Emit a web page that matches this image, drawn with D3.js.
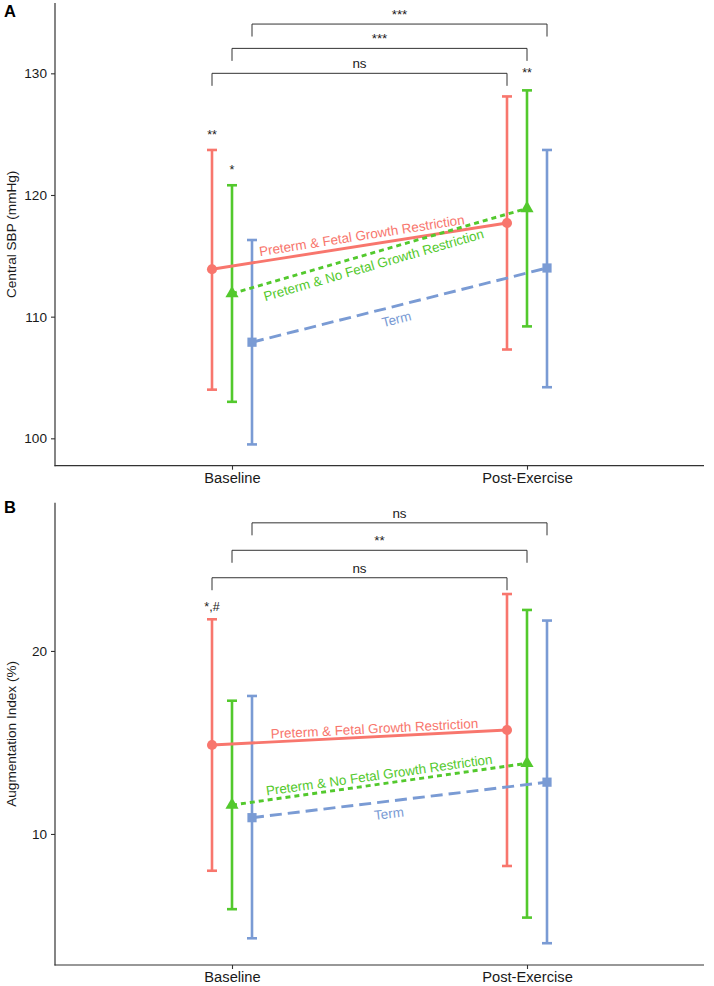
<!DOCTYPE html>
<html><head><meta charset="utf-8">
<script src="https://cdn.jsdelivr.net/npm/d3@7"></script>
<style>body{margin:0;background:#fff} svg{display:block;font-family:"Liberation Sans",Arial,sans-serif}</style>
</head><body><svg id="c" width="714" height="986"></svg>
<script>
// ---------- data ----------
const categories = ["Baseline", "Post-Exercise"];
const groups = ["Preterm & Fetal Growth Restriction", "Preterm & No Fetal Growth Restriction", "Term"];

// Panel A: Central SBP (mmHg)  [group][category]
const sbpMean  = [[113.9, 117.7], [111.9, 118.9], [107.9, 114.0]];
const sbpLower = [[104.0, 107.3], [103.0, 109.2], [99.5, 104.2]];
const sbpUpper = [[123.7, 128.1], [120.8, 128.6], [116.3, 123.7]];
const sbpTicks = [100, 110, 120, 130];
const sbpBracketY = [130.0, 132.05, 134.05];
const sbpBracketLabels = ["ns", "***", "***"];
const sbpAnnotLabels = ["**", "*", "**"];
const sbpAnnotGroup = [0, 1, 1];
const sbpAnnotCat = [0, 0, 1];
const sbpAnnotY = [124.6, 121.7, 129.7];

// Panel B: Augmentation Index (%)
const aixMean  = [[14.86, 15.68], [11.58, 13.86], [10.89, 12.83]];
const aixLower = [[7.99, 8.25], [5.89, 5.43], [4.30, 4.03]];
const aixUpper = [[21.73, 23.11], [17.28, 22.24], [17.54, 21.66]];
const aixTicks = [10, 20];
const aixBracketY = [24.0, 25.5, 27.0];
const aixBracketLabels = ["ns", "**", "ns"];
const aixAnnotLabels = ["*,#"];
const aixAnnotGroup = [0];
const aixAnnotCat = [0];
const aixAnnotY = [22.19];

// ---------- style / layout ----------
const colors = ["#F8766D", "#53C92D", "#7A9BD4"];
const dashes = [null, "5,4", "12,6"];
const W = 714, H = 986;
const left = 55, right = 704;
const dodge = 20;

const panels = [
  {tag: "A", title: "Central SBP (mmHg)", mean: sbpMean, lo: sbpLower, hi: sbpUpper, ticks: sbpTicks,
   domain: [97.75, 135.78], top: 3, bottom: 465.7,
   bY: sbpBracketY, bL: sbpBracketLabels, aL: sbpAnnotLabels, aG: sbpAnnotGroup, aC: sbpAnnotCat, aY: sbpAnnotY,
   lab: [{t: 0.513, off: -10}, {t: 0.469, off: 12}, {t: 0.479, off: 13}], tagY: 17},
  {tag: "B", title: "Augmentation Index (%)", mean: aixMean, lo: aixLower, hi: aixUpper, ticks: aixTicks,
   domain: [2.84, 28.1], top: 502.7, bottom: 965,
   bY: aixBracketY, bL: aixBracketLabels, aL: aixAnnotLabels, aG: aixAnnotGroup, aC: aixAnnotCat, aY: aixAnnotY,
   lab: [{t: 0.552, off: -8}, {t: 0.503, off: -9}, {t: 0.459, off: 12.5}], tagY: 513}
];

const svg = d3.select("#c");
const x = d3.scalePoint().domain(categories).range([left, right]).padding(0.6);
const gx = (g, c) => x(categories[c]) + (g - 1) * dodge;

function symbolPath(g) {
  const types = [d3.symbolCircle, d3.symbolTriangle, d3.symbolSquare];
  const sizes = [80, 75, 85];
  return d3.symbol().type(types[g]).size(sizes[g])();
}

panels.forEach(p => {
  const y = d3.scaleLinear().domain(p.domain).range([p.bottom, p.top]);
  const g = svg.append("g");

  // axes
  const ax = g.append("g").attr("transform", `translate(${left},0)`)
    .call(d3.axisLeft(y).tickValues(p.ticks).tickSize(4).tickPadding(4).tickSizeOuter(0));
  ax.select(".domain").remove();
  ax.selectAll("line").attr("stroke", "#333").attr("stroke-width", 1.1);
  ax.selectAll("text").attr("fill", "#1a1a1a").attr("font-size", 13.6).attr("font-family", "Liberation Sans, Arial, sans-serif");
  g.append("line").attr("x1", left).attr("x2", left).attr("y1", p.top).attr("y2", p.bottom + 0.5)
    .attr("stroke", "#333").attr("stroke-width", 1.2);

  const bx = g.append("g").attr("transform", `translate(0,${p.bottom})`)
    .call(d3.axisBottom(x).tickSize(4).tickPadding(2.6).tickSizeOuter(0));
  bx.select(".domain").remove();
  bx.selectAll("line").attr("stroke", "#333").attr("stroke-width", 1.1);
  bx.selectAll("text").attr("fill", "#1a1a1a").attr("font-size", 14.7).attr("font-family", "Liberation Sans, Arial, sans-serif");
  g.append("line").attr("x1", left - 0.5).attr("x2", right).attr("y1", p.bottom).attr("y2", p.bottom)
    .attr("stroke", "#333").attr("stroke-width", 1.2);

  // y title
  g.append("text").attr("transform", `translate(16,${(p.top + p.bottom) / 2}) rotate(-90)`)
    .attr("text-anchor", "middle").attr("font-size", 13.6).attr("fill", "#1a1a1a").text(p.title);
  // tag
  g.append("text").attr("x", 4).attr("y", p.tagY).attr("font-size", 16.5).attr("font-weight", "bold")
    .attr("fill", "#000").text(p.tag);

  // error bars
  groups.forEach((gn, gi) => {
    categories.forEach((cn, ci) => {
      const cx = gx(gi, ci);
      const eb = g.append("g").attr("stroke", colors[gi]).attr("stroke-width", 2.6).attr("fill", "none");
      eb.append("line").attr("x1", cx).attr("x2", cx).attr("y1", y(p.lo[gi][ci])).attr("y2", y(p.hi[gi][ci]));
      eb.append("line").attr("x1", cx - 5).attr("x2", cx + 5).attr("y1", y(p.lo[gi][ci])).attr("y2", y(p.lo[gi][ci]));
      eb.append("line").attr("x1", cx - 5).attr("x2", cx + 5).attr("y1", y(p.hi[gi][ci])).attr("y2", y(p.hi[gi][ci]));
    });
  });

  // lines
  const line = d3.line().x(d => d[0]).y(d => d[1]);
  groups.forEach((gn, gi) => {
    const pts = categories.map((c, ci) => [gx(gi, ci), y(p.mean[gi][ci])]);
    g.append("path").attr("d", line(pts)).attr("stroke", colors[gi]).attr("stroke-width", 2.9)
      .attr("fill", "none").attr("stroke-dasharray", dashes[gi]);
  });

  // points
  groups.forEach((gn, gi) => {
    categories.forEach((c, ci) => {
      g.append("path").attr("d", symbolPath(gi))
        .attr("transform", `translate(${gx(gi, ci)},${y(p.mean[gi][ci])})`).attr("fill", colors[gi]);
    });
  });

  // line labels
  groups.forEach((gn, gi) => {
    const x0 = gx(gi, 0), y0 = y(p.mean[gi][0]), x1 = gx(gi, 1), y1 = y(p.mean[gi][1]);
    const a = Math.atan2(y1 - y0, x1 - x0);
    const L = p.lab[gi];
    const px = x0 + L.t * (x1 - x0) - L.off * Math.sin(a);
    const py = y0 + L.t * (y1 - y0) + L.off * Math.cos(a);
    g.append("text").attr("transform", `translate(${px},${py}) rotate(${a * 180 / Math.PI})`)
      .attr("text-anchor", "middle").attr("dominant-baseline", "central")
      .attr("font-size", 13.4).attr("fill", colors[gi]).text(gn);
  });

  // brackets
  const tip = 0.027 * (p.domain[1] - p.domain[0]);
  p.bY.forEach((by, i) => {
    const xa = gx(i, 0), xb = gx(i, 1);
    g.append("path")
      .attr("d", `M${xa},${y(by - tip)}V${y(by)}H${xb}V${y(by - tip)}`)
      .attr("fill", "none").attr("stroke", "#333").attr("stroke-width", 1);
    g.append("text").attr("x", (xa + xb) / 2).attr("y", y(by) - 5).attr("text-anchor", "middle")
      .attr("font-size", 13.4).attr("fill", "#1a1a1a").text(p.bL[i]);
  });

  // annotations
  p.aL.forEach((t, i) => {
    g.append("text").attr("x", gx(p.aG[i], p.aC[i])).attr("y", y(p.aY[i])).attr("text-anchor", "middle")
      .attr("font-size", 12.5).attr("fill", "#1a1a1a").text(t);
  });
});
</script></body></html>
